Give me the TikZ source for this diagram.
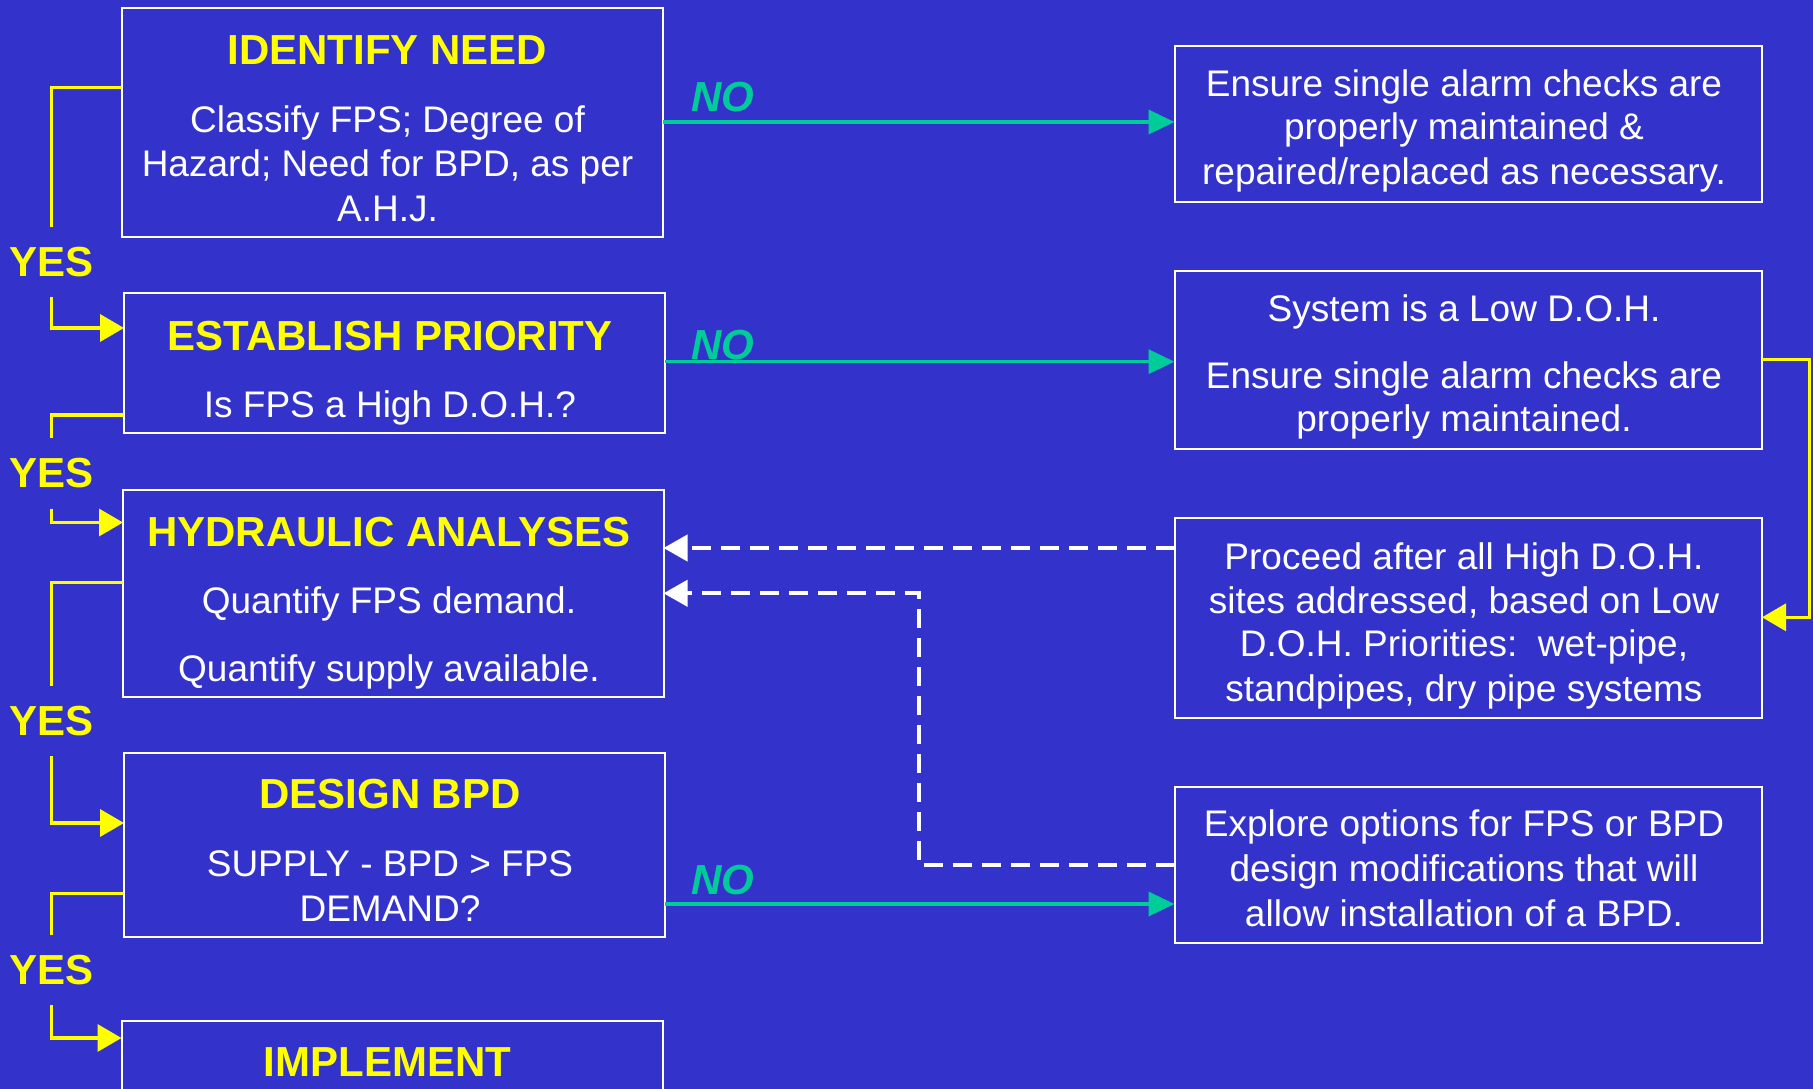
\documentclass[tikz,border=0pt]{standalone}
\usepackage{fontspec}
\setmainfont{Liberation Sans}
\usetikzlibrary{arrows.meta}
\definecolor{bg}{RGB}{51,51,204}
\definecolor{ylw}{RGB}{255,255,0}
\definecolor{grn}{RGB}{0,204,153}
\begin{document}
\begin{tikzpicture}[x=1pt,y=-1pt,
  box/.style={draw=white,line width=2pt,inner sep=0pt,outer sep=0pt,rectangle},
  ttl/.style={text=ylw,font=\fontsize{42}{50}\selectfont\bfseries,anchor=base,inner sep=0pt},
  txt/.style={text=white,font=\fontsize{37}{44}\selectfont,anchor=base,inner sep=0pt},
  yes/.style={text=ylw,font=\fontsize{42}{50}\selectfont\bfseries,inner xsep=0pt,inner ysep=20pt},
  nolab/.style={text=grn,font=\fontsize{42}{50}\selectfont\bfseries\itshape,anchor=base,inner sep=0pt},
  yl/.style={draw=ylw,line width=3.5pt},
  yarr/.style={yl,-{Triangle[length=24pt,width=27pt]}},
  gr/.style={draw=grn,line width=3.5pt,-{Triangle[length=26pt,width=24pt]}},
  dsh/.style={draw=white,line width=4pt,dash pattern=on 19pt off 10pt,-{Triangle[length=24pt,width=26pt]}}
]
\useasboundingbox (0,0) rectangle (1813,1089);
\fill[bg] (0,0) rectangle (1813,1089);
\clip (0,0) rectangle (1813,1089);

% left boxes
\node[box,minimum width=541pt,minimum height=228.5pt] (b1) at (392,122.75) {};
\node[box,minimum width=541pt,minimum height=140pt] (b2) at (394.5,363.3) {};
\node[box,minimum width=540.5pt,minimum height=207pt] (b3) at (393.25,593) {};
\node[box,minimum width=541pt,minimum height=184pt] (b4) at (394.5,845) {};
\node[box,minimum width=541pt,minimum height=89.5pt] (b5) at (392,1065.25) {};

% right boxes
\node[box,minimum width=587.5pt,minimum height=155.7pt] (r1) at (1468.25,123.85) {};
\node[box,minimum width=587.5pt,minimum height=178.3pt] (r2) at (1468.25,359.85) {};
\node[box,minimum width=587.5pt,minimum height=200.6pt] (r3) at (1468.25,618) {};
\node[box,minimum width=587.5pt,minimum height=156pt] (r4) at (1468.25,864.7) {};

% texts of left boxes
\node[ttl] (t1) at (387.5,65) {IDENTIFY NEED};
\node[txt] (t1a) at (387.5,132.7) {Classify FPS; Degree of};
\node[txt] (t1b) at (387.5,176.7) {Hazard; Need for BPD, as per};
\node[txt] (t1c) at (387.5,221.7) {A.H.J.};

\node[ttl] (t2) at (390,350) {ESTABLISH PRIORITY};
\node[txt] (t2a) at (390,417) {Is FPS a High D.O.H.?};

\node[ttl] (t3) at (389,546) {HYDRAULIC ANALYSES};
\node[txt] (t3a) at (389,613.8) {Quantify FPS demand.};
\node[txt] (t3b) at (389,681.5) {Quantify supply available.};

\node[ttl] (t4) at (390,808.6) {DESIGN BPD};
\node[txt] (t4a) at (390,876.6) {SUPPLY - BPD > FPS};
\node[txt] (t4b) at (390,921.5) {DEMAND?};

\node[ttl] (t5) at (387.5,1076) {IMPLEMENT};

% texts of right boxes
\node[txt] (s1a) at (1464,96.7) {Ensure single alarm checks are};
\node[txt] (s1b) at (1464,140) {properly maintained \&};
\node[txt] (s1c) at (1464,185) {repaired/replaced as necessary.};

\node[txt] (s2a) at (1464,321.7) {System is a Low D.O.H.};
\node[txt] (s2b) at (1464,388.3) {Ensure single alarm checks are};
\node[txt] (s2c) at (1464,431.7) {properly maintained.};

\node[txt] (s3a) at (1464,569.3) {Proceed after all High D.O.H.};
\node[txt] (s3b) at (1464,613.3) {sites addressed, based on Low};
\node[txt] (s3c) at (1464,656.7) {D.O.H. Priorities:\ \ wet-pipe,};
\node[txt] (s3d) at (1464,701.7) {standpipes, dry pipe systems};

\node[txt] (s4a) at (1464,836.7) {Explore options for FPS or BPD};
\node[txt] (s4b) at (1464,881.7) {design modifications that will};
\node[txt] (s4c) at (1464,926.7) {allow installation of a BPD.};

% YES labels
\node[yes] (y1) at (51.5,262) {YES};
\node[yes] (y2) at (51.5,473.5) {YES};
\node[yes] (y3) at (51.5,721) {YES};
\node[yes] (y4) at (51.5,970) {YES};

% NO labels
\node[nolab] (n1) at (722.5,112) {NO};
\node[nolab] (n2) at (722.5,359.5) {NO};
\node[nolab] (n3) at (722.5,894) {NO};

% yellow YES connectors
\draw[yl] (b1.west |- 0,87.3) -| (y1.north);
\draw[yarr] (y1.south) |- (b2.west |- 0,328);
\draw[yl] (b2.west |- 0,415) -| (y2.north);
\draw[yarr] (y2.south) |- (b3.west |- 0,522.5);
\draw[yl] (b3.west |- 0,582.4) -| (y3.north);
\draw[yarr] (y3.south) |- (b4.west |- 0,823);
\draw[yl] (b4.west |- 0,893.4) -| (y4.north);
\draw[yarr] (y4.south) |- (b5.west |- 0,1038);

% green NO connectors
\draw[gr] (b1.east |- 0,122) -- (r1.west |- 0,122);
\draw[gr] (b2.east |- 0,361.7) -- (r2.west |- 0,361.7);
\draw[gr] (b4.east |- 0,904) -- (r4.west |- 0,904);

% yellow right connector
\draw[yarr] (r2.east |- 0,359.3) -- (1809.5,359.3) |- (r3.east |- 0,617.3);

% dashed white connectors
\draw[dsh] (r3.west |- 0,548) -- (b3.east |- 0,548);
\draw[dsh] (r4.west |- 0,865) -- (918.5,865) |- (b3.east |- 0,593.3);
\end{tikzpicture}
\end{document}
